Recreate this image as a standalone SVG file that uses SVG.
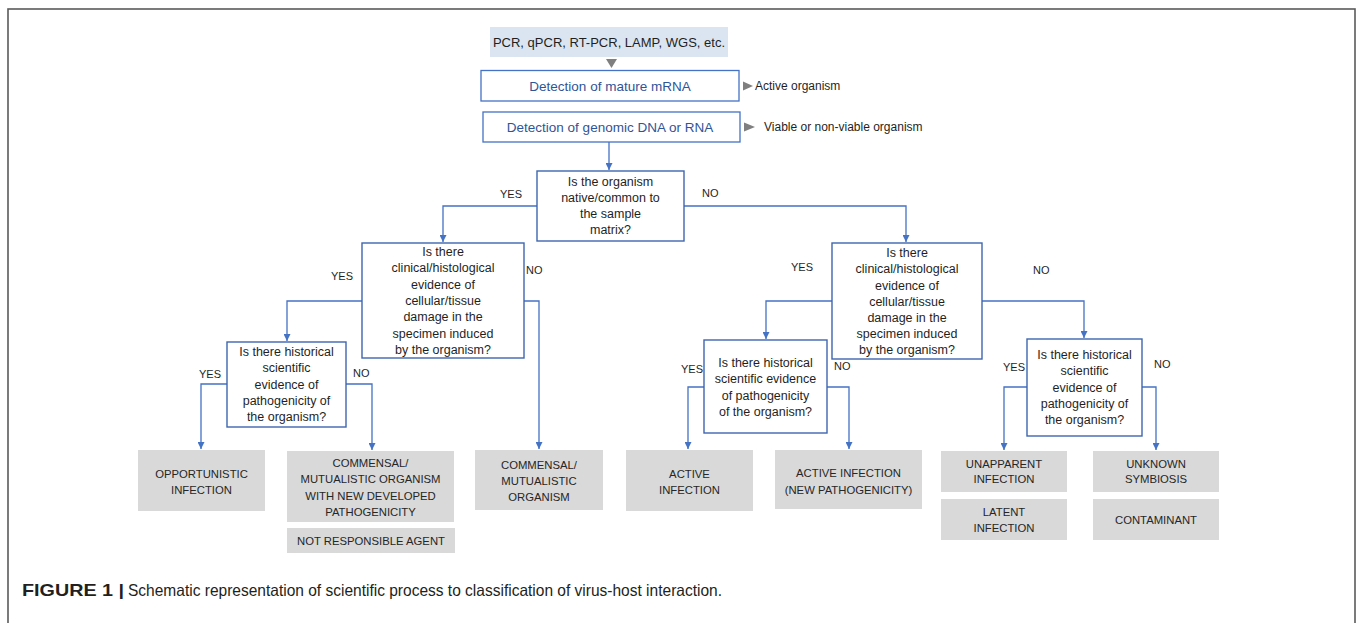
<svg xmlns="http://www.w3.org/2000/svg" width="1357" height="623" viewBox="0 0 1357 623">
<defs>
<style>
.frame{fill:#fff;stroke:#5a5a5a;stroke-width:1.6}
.src{fill:#dbe5f1}
.blue{fill:#fff;stroke:#4472c4;stroke-width:1.3}
.q{fill:#fff;stroke:#3e66b0;stroke-width:1.4}
.res{fill:#d9d9d9}
.conn{fill:none;stroke:#4472c4;stroke-width:1.3}
.t{font-family:"Liberation Sans",Arial,sans-serif;fill:#1f1f1f;text-anchor:middle}
.qt{font-size:12.5px}
.bt{font-size:13.5px;fill:#2f5597}
.rt{font-size:11.3px;fill:#262626}
.lab{font-family:"Liberation Sans",Arial,sans-serif;font-size:11px;fill:#1f1f1f}
.side{font-family:"Liberation Sans",Arial,sans-serif;font-size:12px;fill:#1f1f1f}
.tri{fill:#7f7f7f}
</style>
<marker id="ah" viewBox="0 0 10 10" refX="10" refY="5" markerWidth="7" markerHeight="7" markerUnits="userSpaceOnUse" orient="auto">
<path d="M0,0 L10,5 L0,10 z" fill="#4472c4"/>
</marker>
</defs>
<rect class="frame" x="8" y="9" width="1347" height="630"/>

<g id="connectors">
<line class="conn" x1="609" y1="142" x2="609" y2="170" marker-end="url(#ah)"/>
<polyline class="conn" points="537,206 443,206 443,242" marker-end="url(#ah)"/>
<polyline class="conn" points="684,206 906,206 906,242" marker-end="url(#ah)"/>
<polyline class="conn" points="362,301 287,301 287,341" marker-end="url(#ah)"/>
<polyline class="conn" points="524,301 539,301 539,449" marker-end="url(#ah)"/>
<polyline class="conn" points="832,301 766,301 766,339" marker-end="url(#ah)"/>
<polyline class="conn" points="982,301 1084,301 1084,338" marker-end="url(#ah)"/>
<polyline class="conn" points="227,384 201,384 201,449" marker-end="url(#ah)"/>
<polyline class="conn" points="346,384 372,384 372,450" marker-end="url(#ah)"/>
<polyline class="conn" points="704,387 688,387 688,449" marker-end="url(#ah)"/>
<polyline class="conn" points="827,387 849,387 849,449" marker-end="url(#ah)"/>
<polyline class="conn" points="1027,387 1004,387 1004,450" marker-end="url(#ah)"/>
<polyline class="conn" points="1142,387 1156,387 1156,450" marker-end="url(#ah)"/>
</g>

<g id="labels">
<text class="lab" x="500" y="198">YES</text>
<text class="lab" x="702" y="197">NO</text>
<text class="lab" x="331" y="280">YES</text>
<text class="lab" x="526" y="274">NO</text>
<text class="lab" x="791" y="271">YES</text>
<text class="lab" x="1033" y="274">NO</text>
<text class="lab" x="199" y="378">YES</text>
<text class="lab" x="353" y="377">NO</text>
<text class="lab" x="681" y="373">YES</text>
<text class="lab" x="834" y="370">NO</text>
<text class="lab" x="1003" y="371">YES</text>
<text class="lab" x="1154" y="368">NO</text>
</g>

<g id="methods">
<rect class="src" x="490" y="27" width="238" height="30"/>
<text class="t" x="609" y="47" style="font-size:13px">PCR, qPCR, RT-PCR, LAMP, WGS, etc.</text>
<path class="tri" d="M606,59 L617,59 L611.5,68 z"/>
</g>

<g id="mrna">
<rect class="blue" x="481" y="70.5" width="258" height="30.5"/>
<text class="t bt" x="610" y="91">Detection of mature mRNA</text>
<path class="tri" d="M743,81.5 L753,86 L743,90.5 z"/>
<text class="side" x="755" y="90">Active organism</text>
</g>

<g id="dna">
<rect class="blue" x="483" y="112" width="257" height="30"/>
<text class="t bt" x="610" y="132">Detection of genomic DNA or RNA</text>
<path class="tri" d="M744,122.5 L755,127 L744,131.5 z"/>
<text class="side" x="764" y="131">Viable or non-viable organism</text>
</g>

<g id="q-native">
<rect class="q" x="537" y="171" width="147" height="70"/>
<text class="t qt" x="610.5" y="186">Is the organism</text>
<text class="t qt" x="610.5" y="202">native/common to</text>
<text class="t qt" x="610.5" y="218">the sample</text>
<text class="t qt" x="610.5" y="234">matrix?</text>
</g>

<g id="q-clinical-left">
<rect class="q" x="362" y="243" width="162" height="115"/>
<text class="t qt" x="443" y="256">Is there</text>
<text class="t qt" x="443" y="272">clinical/histological</text>
<text class="t qt" x="443" y="289">evidence of</text>
<text class="t qt" x="443" y="305">cellular/tissue</text>
<text class="t qt" x="443" y="321">damage in the</text>
<text class="t qt" x="443" y="337.5">specimen induced</text>
<text class="t qt" x="443" y="354">by the organism?</text>
</g>

<g id="q-clinical-right">
<rect class="q" x="832" y="243" width="150" height="116"/>
<text class="t qt" x="907" y="257">Is there</text>
<text class="t qt" x="907" y="273">clinical/histological</text>
<text class="t qt" x="907" y="289.5">evidence of</text>
<text class="t qt" x="907" y="305.5">cellular/tissue</text>
<text class="t qt" x="907" y="321.5">damage in the</text>
<text class="t qt" x="907" y="338">specimen induced</text>
<text class="t qt" x="907" y="354">by the organism?</text>
</g>

<g id="q-hist-left">
<rect class="q" x="227" y="342" width="119" height="85"/>
<text class="t qt" x="286.5" y="356">Is there historical</text>
<text class="t qt" x="286.5" y="372">scientific</text>
<text class="t qt" x="286.5" y="388.5">evidence of</text>
<text class="t qt" x="286.5" y="405">pathogenicity of</text>
<text class="t qt" x="286.5" y="421">the organism?</text>
</g>

<g id="q-hist-mid">
<rect class="q" x="704" y="340" width="123" height="93"/>
<text class="t qt" x="765.5" y="367">Is there historical</text>
<text class="t qt" x="765.5" y="383.3">scientific evidence</text>
<text class="t qt" x="765.5" y="399.6">of pathogenicity</text>
<text class="t qt" x="765.5" y="416">of the organism?</text>
</g>

<g id="q-hist-right">
<rect class="q" x="1027" y="339" width="115" height="97"/>
<text class="t qt" x="1084.5" y="359">Is there historical</text>
<text class="t qt" x="1084.5" y="375">scientific</text>
<text class="t qt" x="1084.5" y="391.5">evidence of</text>
<text class="t qt" x="1084.5" y="408">pathogenicity of</text>
<text class="t qt" x="1084.5" y="424">the organism?</text>
</g>

<g id="r-opportunistic">
<rect class="res" x="138" y="450" width="127" height="61"/>
<text class="t rt" x="201.5" y="478">OPPORTUNISTIC</text>
<text class="t rt" x="201.5" y="493.5">INFECTION</text>
</g>

<g id="r-commensal-new">
<rect class="res" x="287" y="451" width="167" height="71"/>
<text class="t rt" x="370.5" y="467">COMMENSAL/</text>
<text class="t rt" x="370.5" y="483">MUTUALISTIC ORGANISM</text>
<text class="t rt" x="370.5" y="499.5">WITH NEW DEVELOPED</text>
<text class="t rt" x="370.5" y="516">PATHOGENICITY</text>
</g>

<g id="r-not-responsible">
<rect class="res" x="287" y="528" width="168" height="25"/>
<text class="t rt" x="371" y="545">NOT RESPONSIBLE AGENT</text>
</g>

<g id="r-commensal">
<rect class="res" x="475" y="450" width="128" height="60"/>
<text class="t rt" x="539" y="469">COMMENSAL/</text>
<text class="t rt" x="539" y="484.5">MUTUALISTIC</text>
<text class="t rt" x="539" y="501">ORGANISM</text>
</g>

<g id="r-active">
<rect class="res" x="626" y="450" width="127" height="61"/>
<text class="t rt" x="689.5" y="477.5">ACTIVE</text>
<text class="t rt" x="689.5" y="493.5">INFECTION</text>
</g>

<g id="r-active-new">
<rect class="res" x="775" y="450" width="147" height="59"/>
<text class="t rt" x="848.5" y="477">ACTIVE INFECTION</text>
<text class="t rt" x="848.5" y="494">(NEW PATHOGENICITY)</text>
</g>

<g id="r-unapparent">
<rect class="res" x="941" y="451" width="126" height="41"/>
<text class="t rt" x="1004" y="467.5">UNAPPARENT</text>
<text class="t rt" x="1004" y="483">INFECTION</text>
</g>

<g id="r-latent">
<rect class="res" x="941" y="499" width="126" height="41"/>
<text class="t rt" x="1004" y="516">LATENT</text>
<text class="t rt" x="1004" y="532">INFECTION</text>
</g>

<g id="r-unknown">
<rect class="res" x="1093" y="451" width="126" height="41"/>
<text class="t rt" x="1156" y="467.5">UNKNOWN</text>
<text class="t rt" x="1156" y="483">SYMBIOSIS</text>
</g>

<g id="r-contaminant">
<rect class="res" x="1093" y="499" width="126" height="41"/>
<text class="t rt" x="1156" y="524">CONTAMINANT</text>
</g>

<g id="caption">
<text x="22" y="596" style="font-family:'Liberation Sans',Arial,sans-serif;font-size:16.5px;font-weight:bold;fill:#231f20" textLength="102" lengthAdjust="spacingAndGlyphs">FIGURE 1 |</text>
<text x="128" y="596" style="font-family:'Liberation Sans',Arial,sans-serif;font-size:16.5px;fill:#231f20" textLength="594" lengthAdjust="spacingAndGlyphs">Schematic representation of scientific process to classification of virus-host interaction.</text>
</g>
</svg>
